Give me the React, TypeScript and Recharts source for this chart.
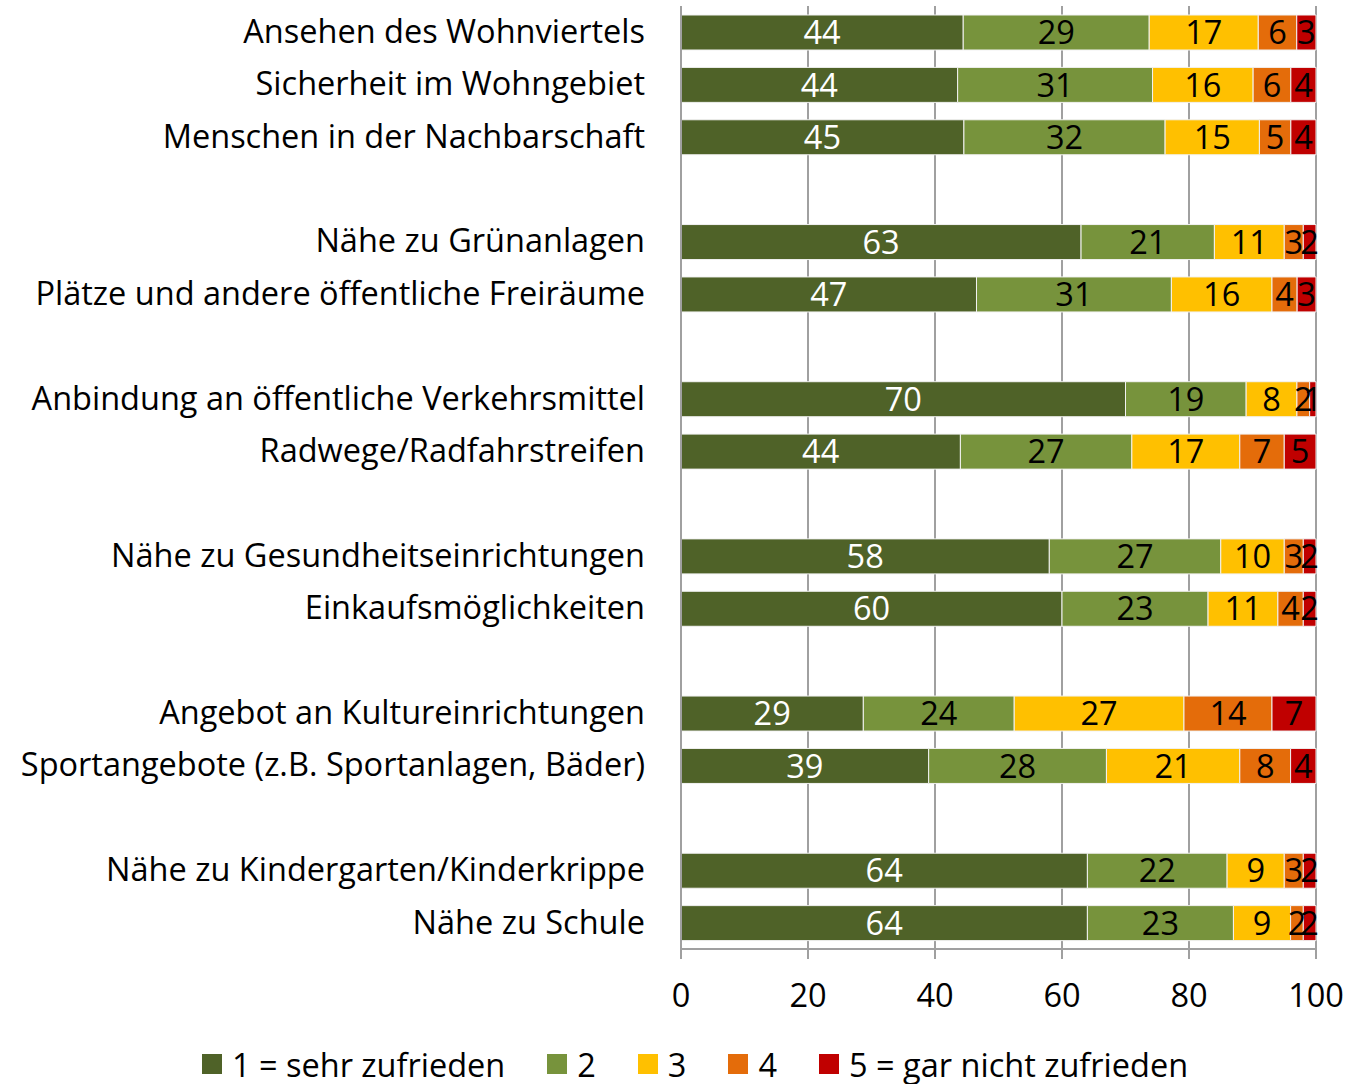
import React from "react";
import {
  Bar,
  BarChart,
  CartesianGrid,
  LabelList,
  Legend,
  XAxis,
  YAxis,
} from "recharts";

const categories = [
  "Ansehen des Wohnviertels",
  "Sicherheit im Wohngebiet",
  "Menschen in der Nachbarschaft",
  "",
  "Nähe zu Grünanlagen",
  "Plätze und andere öffentliche Freiräume",
  "",
  "Anbindung an öffentliche Verkehrsmittel",
  "Radwege/Radfahrstreifen",
  "",
  "Nähe zu Gesundheitseinrichtungen",
  "Einkaufsmöglichkeiten",
  "",
  "Angebot an Kultureinrichtungen",
  "Sportangebote (z.B. Sportanlagen, Bäder)",
  "",
  "Nähe zu Kindergarten/Kinderkrippe",
  "Nähe zu Schule",
];

const s1 = [44, 44, 45, null, 63, 47, null, 70, 44, null, 58, 60, null, 29, 39, null, 64, 64];
const s2 = [29, 31, 32, null, 21, 31, null, 19, 27, null, 27, 23, null, 24, 28, null, 22, 23];
const s3 = [17, 16, 15, null, 11, 16, null, 8, 17, null, 10, 11, null, 27, 21, null, 9, 9];
const s4 = [6, 6, 5, null, 3, 4, null, 2, 7, null, 3, 4, null, 14, 8, null, 3, 2];
const s5 = [3, 4, 4, null, 2, 3, null, 1, 5, null, 2, 2, null, 7, 4, null, 2, 2];

const seriesNames = ["1 = sehr zufrieden", "2", "3", "4", "5 = gar nicht zufrieden"];
const colors = ["#4F6228", "#77933C", "#FFC000", "#E46C0A", "#C00000"];
const labelColors = ["#ffffff", "#000000", "#000000", "#000000", "#000000"];
const xTicks = [0, 0.2, 0.4, 0.6, 0.8, 1];
const rowTicks = Array.from({ length: categories.length + 1 }, (_, i) => i);

const keys = ["s1", "s2", "s3", "s4", "s5"];
const rows = categories.map((name, i) => ({
  name,
  s1: s1[i],
  s2: s2[i],
  s3: s3[i],
  s4: s4[i],
  s5: s5[i],
}));

const FONT = "'Open Sans', sans-serif";
const FS = 32.5;
const GRID = "#a0a0a0";

function makeLabel(color: string) {
  return (props: any) => {
    const { x, y, width, height, value } = props;
    if (value == null) return null;
    return (
      <text
        x={x + width / 2}
        y={y + height / 2 + 3}
        textAnchor="middle"
        dominantBaseline="middle"
        fill={color}
        fontSize={FS}
        fontFamily={FONT}
      >
        {value}
      </text>
    );
  };
}

function CategoryTick(props: any) {
  const { x, y, payload } = props;
  return (
    <text x={x} y={y} dy="0.33em" textAnchor="end" fill="#000" fontSize={FS} fontFamily={FONT}>
      {payload.value}
    </text>
  );
}

function LegendContent() {
  return (
    <div
      style={{
        height: 40,
        display: "flex",
        justifyContent: "center",
        alignItems: "center",
        fontFamily: FONT,
        fontSize: FS,
        color: "#000",
        whiteSpace: "nowrap",
        paddingLeft: 22,
      }}
    >
      {seriesNames.map((n, i) => (
        <div key={n} style={{ display: "flex", alignItems: "center", marginRight: i < 4 ? 42 : 0 }}>
          <span style={{ width: 20, height: 20, background: colors[i], marginRight: 10, display: "inline-block" }} />
          <span>{n}</span>
        </div>
      ))}
    </div>
  );
}

export default function App() {
  return (
    <div style={{ position: "absolute", left: 0, top: 0, background: "#fff" }}>
      <BarChart
        width={1368}
        height={1084}
        data={rows}
        layout="vertical"
        stackOffset="expand"
        barSize={35}
        margin={{ top: 6, right: 52, bottom: 0, left: 679 }}
      >
        <CartesianGrid horizontal={false} stroke={GRID} strokeWidth={2} />
        <XAxis
          type="number"
          domain={[0, 1]}
          ticks={xTicks}
          tickFormatter={(v: number) => `${Math.round(v * 100)}`}
          stroke={GRID}
          strokeWidth={2}
          tickSize={10}
          tickMargin={25}
          height={95}
          tick={{ fill: "#000", fontSize: FS, fontFamily: FONT }}
        />
        <YAxis
          yAxisId="rows"
          type="number"
          domain={[0, categories.length]}
          ticks={rowTicks}
          interval={0}
          width={1}
          tick={false}
          axisLine={false}
          tickSize={11}
          tickLine={{ stroke: GRID, strokeWidth: 2 }}
        />
        <YAxis
          yAxisId="cat"
          type="category"
          dataKey="name"
          width={1}
          interval={0}
          tickLine={false}
          tickSize={10}
          tickMargin={26}
          stroke={GRID}
          strokeWidth={2}
          tick={<CategoryTick />}
        />
        <Legend
          verticalAlign="bottom"
          wrapperStyle={{ left: 0, width: 1368 }}
          content={<LegendContent />}
        />
        {keys.map((k, i) => (
          <Bar
            key={k}
            yAxisId="cat"
            dataKey={k}
            name={seriesNames[i]}
            stackId="a"
            fill={colors[i]}
            stroke="#f2f2f2"
            strokeWidth={1}
            isAnimationActive={false}
          >
            <LabelList dataKey={k} content={makeLabel(labelColors[i])} />
          </Bar>
        ))}
      </BarChart>
    </div>
  );
}
